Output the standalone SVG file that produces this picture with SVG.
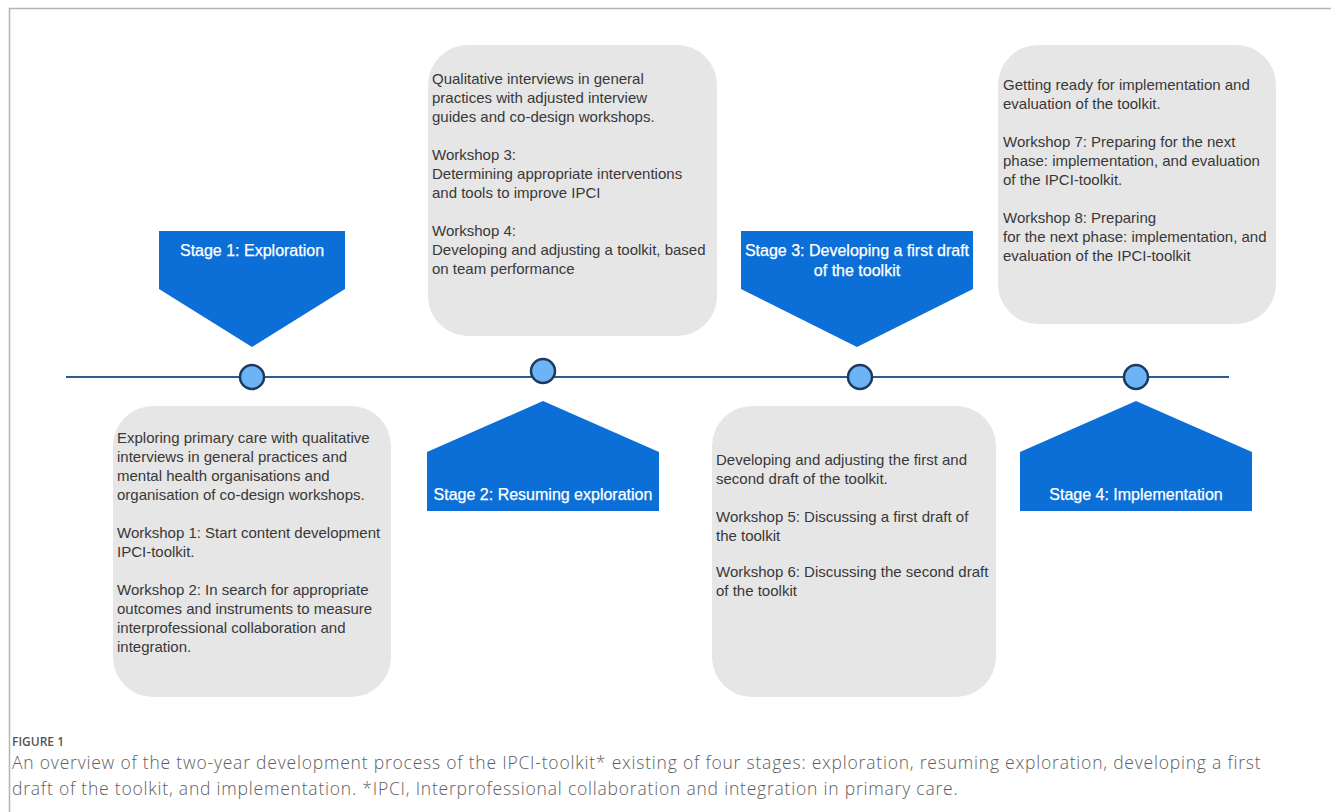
<svg xmlns="http://www.w3.org/2000/svg" width="1331" height="812" viewBox="0 0 1331 812">
  <style>
    .box { fill: #e6e6e6; }
    .stage { fill: #0b6fd7; }
    .dot { fill: #6cb4f5; stroke: #1c3a5e; stroke-width: 2.5; }
    .body { font-family: "Liberation Sans", Arial, sans-serif; font-size: 15px; fill: #383838; }
    .label { font-family: "Liberation Sans", Arial, sans-serif; font-size: 16px; fill: #ffffff; stroke: #ffffff; stroke-width: 0.25; text-anchor: middle; }
    .capHead { font-family: "Open Sans", "Noto Sans", sans-serif; font-size: 12px; font-weight: 600; fill: #555555; }
    .cap { font-family: "Open Sans", "Noto Sans", sans-serif; font-size: 17.5px; font-weight: 300; letter-spacing: 0.79px; fill: #5e5e5e; }
  </style>

  <rect x="0" y="0" width="1331" height="812" fill="#ffffff"/>
  <!-- figure frame -->
  <path d="M9.5 812 V8.5 H1331" fill="none" stroke="#b4b4b4" stroke-width="1.5"/>

  <!-- timeline -->
  <g id="connectors">
    <line x1="66" y1="377" x2="1229" y2="377" stroke="#2e5c8a" stroke-width="2.2"/>
  </g>

  <!-- milestones on the timeline -->
  <g id="milestone-1"><circle class="dot" cx="252" cy="377" r="12"/></g>
  <g id="milestone-2"><circle class="dot" cx="543" cy="371" r="12"/></g>
  <g id="milestone-3"><circle class="dot" cx="860" cy="377" r="12"/></g>
  <g id="milestone-4"><circle class="dot" cx="1136" cy="377" r="12"/></g>

  <!-- stage markers -->
  <g id="stage-1">
    <polygon class="stage" points="159,231 345,231 345,289 252,347 159,289"/>
    <text class="label" x="252" y="256">Stage 1: Exploration</text>
  </g>
  <g id="stage-2">
    <polygon class="stage" points="543,401 659,452 659,511 427,511 427,452"/>
    <text class="label" x="543" y="500">Stage 2: Resuming exploration</text>
  </g>
  <g id="stage-3">
    <polygon class="stage" points="741,231 973,231 973,289 857,347 741,289"/>
    <text class="label" x="857" y="256">Stage 3: Developing a first draft</text>
    <text class="label" x="857" y="276">of the toolkit</text>
  </g>
  <g id="stage-4">
    <polygon class="stage" points="1136,401 1252,452 1252,511 1020,511 1020,452"/>
    <text class="label" x="1136" y="500">Stage 4: Implementation</text>
  </g>

  <!-- activity boxes -->
  <g id="box-1">
    <rect class="box" x="113" y="406" width="278" height="291" rx="40"/>
    <text class="body" x="117" y="443">Exploring primary care with qualitative</text>
    <text class="body" x="117" y="462">interviews in general practices and</text>
    <text class="body" x="117" y="481">mental health organisations and</text>
    <text class="body" x="117" y="500">organisation of co-design workshops.</text>
    <text class="body" x="117" y="538">Workshop 1: Start content development</text>
    <text class="body" x="117" y="557">IPCI-toolkit.</text>
    <text class="body" x="117" y="595">Workshop 2: In search for appropriate</text>
    <text class="body" x="117" y="614">outcomes and instruments to measure</text>
    <text class="body" x="117" y="633">interprofessional collaboration and</text>
    <text class="body" x="117" y="652">integration.</text>
  </g>

  <g id="box-2">
    <rect class="box" x="428" y="45" width="289" height="291" rx="40"/>
    <text class="body" x="432" y="84">Qualitative interviews in general</text>
    <text class="body" x="432" y="103">practices with adjusted interview</text>
    <text class="body" x="432" y="122">guides and co-design workshops.</text>
    <text class="body" x="432" y="160">Workshop 3:</text>
    <text class="body" x="432" y="179">Determining appropriate interventions</text>
    <text class="body" x="432" y="198">and tools to improve IPCI</text>
    <text class="body" x="432" y="236">Workshop 4:</text>
    <text class="body" x="432" y="255">Developing and adjusting a toolkit, based</text>
    <text class="body" x="432" y="274">on team performance</text>
  </g>

  <g id="box-3">
    <rect class="box" x="712" y="406" width="284" height="291" rx="40"/>
    <text class="body" x="716" y="465">Developing and adjusting the first and</text>
    <text class="body" x="716" y="484">second draft of the toolkit.</text>
    <text class="body" x="716" y="522">Workshop 5: Discussing a first draft of</text>
    <text class="body" x="716" y="541">the toolkit</text>
    <text class="body" x="716" y="577">Workshop 6: Discussing the second draft</text>
    <text class="body" x="716" y="596">of the toolkit</text>
  </g>

  <g id="box-4">
    <rect class="box" x="998" y="45" width="278" height="279" rx="40"/>
    <text class="body" x="1003" y="90">Getting ready for implementation and</text>
    <text class="body" x="1003" y="109">evaluation of the toolkit.</text>
    <text class="body" x="1003" y="147">Workshop 7: Preparing for the next</text>
    <text class="body" x="1003" y="166">phase: implementation, and evaluation</text>
    <text class="body" x="1003" y="185">of the IPCI-toolkit.</text>
    <text class="body" x="1003" y="223">Workshop 8: Preparing</text>
    <text class="body" x="1003" y="242">for the next phase: implementation, and</text>
    <text class="body" x="1003" y="261">evaluation of the IPCI-toolkit</text>
  </g>

  <!-- caption -->
  <g id="caption">
    <text class="capHead" x="12" y="746">FIGURE 1</text>
    <text class="cap" x="12" y="769">An overview of the two-year development process of the IPCI-toolkit* existing of four stages: exploration, resuming exploration, developing a first</text>
    <text class="cap" x="12" y="795">draft of the toolkit, and implementation. *IPCI, Interprofessional collaboration and integration in primary care.</text>
  </g>
</svg>
